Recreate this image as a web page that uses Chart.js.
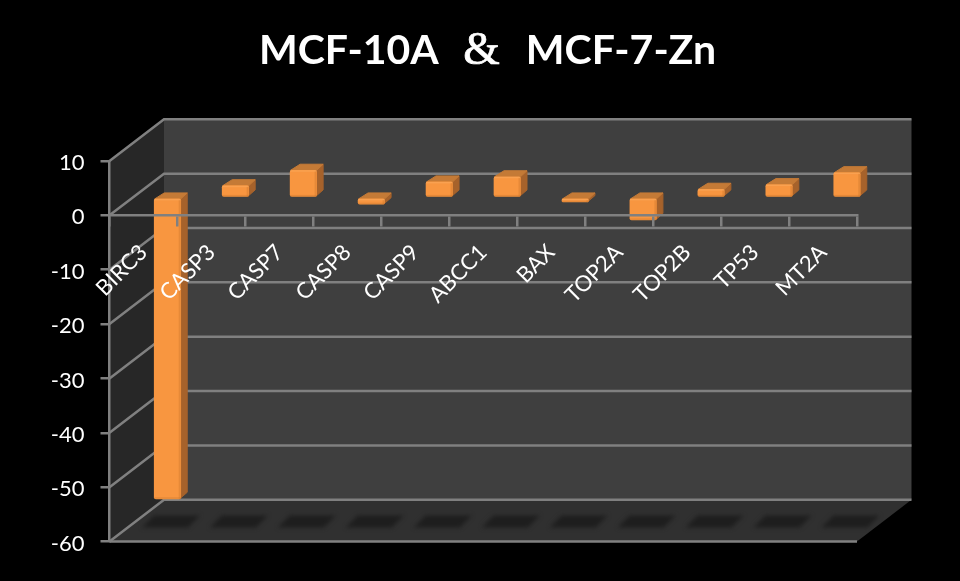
<!DOCTYPE html>
<html lang="en">
<head>
  <meta charset="UTF-8">
  <title>MCF-10A &amp; MCF-7-Zn</title>
  <script src="https://cdn.jsdelivr.net/npm/chart.js"></script>
  <style>
    body {
      margin: 0;
      background-color: #000;
      overflow: hidden;
    }
    #chart-box {
      position: relative;
      width: 960px;
      height: 581px;
    }
    #chart-title {
      position: absolute;
      left: 259px;
      top: 18px;
      color: #fff;
      font: bold 41px Lato, sans-serif;
      line-height: 60px;
      white-space: pre;
    }
    #chart-title span {
      font-family: "Liberation Serif", serif;
      font-weight: normal;
      font-size: 47px;
      -webkit-text-stroke: 0.7px #fff;
      margin: 0 6px;
    }
  </style>
</head>
<body>
  <div id="chart-box">
    <canvas id="geneChart" width="960" height="581"></canvas>
    <div id="chart-title">MCF-10A  <span>&amp;</span>  MCF-7-Zn</div>
  </div>

  <script>
    const genes = ['BIRC3', 'CASP3', 'CASP7', 'CASP8', 'CASP9', 'ABCC1', 'BAX', 'TOP2A', 'TOP2B', 'TP53', 'MT2A'];
    const foldChange = [-55.4, 2.2, 5.05, -1.2, 2.9, 3.85, -0.8, -4.1, 1.55, 2.4, 4.6];
    const yTicks = [10, 0, -10, -20, -30, -40, -50, -60];

    const lineGrey = '#808080';

    // depth of the box and how far the bars sit inside it
    const wallDx = 54.5, wallDy = 41.7;
    const barDx = 24, barDy = 17.7;
    const capLeft = 10, capRight = 7, capUp = 6.5;

    function fillPoly(ctx, color, pts, round) {
      ctx.fillStyle = color;
      ctx.beginPath();
      pts.forEach((p, i) => i ? ctx.lineTo(p[0], p[1]) : ctx.moveTo(p[0], p[1]));
      ctx.closePath();
      ctx.fill();
      if (round) {
        ctx.strokeStyle = color;
        ctx.lineWidth = round;
        ctx.lineJoin = 'round';
        ctx.stroke();
      }
    }

    const box3d = {
      id: 'box3d',
      // back wall, side wall, floor and their grid lines
      beforeDraw(chart) {
        const { ctx, chartArea: a, scales: { y } } = chart;
        const bx = a.left + wallDx, floorY = y.getPixelForValue(-60), topY = y.getPixelForValue(10);
        ctx.save();
        fillPoly(ctx, '#3f3f3f', [[bx, topY - wallDy], [a.right + wallDx, topY - wallDy], [a.right + wallDx, floorY - wallDy], [bx, floorY - wallDy]]);
        fillPoly(ctx, '#272727', [[a.left, topY], [bx, topY - wallDy], [bx, floorY - wallDy], [a.left, floorY]]);
        fillPoly(ctx, '#303030', [[a.left, floorY], [bx, floorY - wallDy], [a.right + wallDx, floorY - wallDy], [a.right, floorY]]);
        ctx.strokeStyle = lineGrey;
        ctx.lineWidth = 2.5;
        yTicks.forEach(v => {
          const py = y.getPixelForValue(v);
          ctx.beginPath();
          ctx.moveTo(a.left, py);
          ctx.lineTo(bx, py - wallDy);
          ctx.lineTo(a.right + wallDx, py - wallDy);
          ctx.stroke();
        });
        ctx.beginPath();
        ctx.moveTo(a.left, floorY);
        ctx.lineTo(a.right, floorY);
        ctx.stroke();
        ctx.restore();
      },
      // floor shadows and bar sides, then shift the bars into the box
      beforeDatasetsDraw(chart) {
        const { ctx, scales: { y } } = chart;
        const bars = chart.getDatasetMeta(0).data;
        const floorY = y.getPixelForValue(-60);
        ctx.save();
        ctx.filter = 'blur(2px)';
        bars.forEach(el => {
          const c = el.x + 27.5;
          fillPoly(ctx, '#1e1e1e', [[c - 29, floorY - 14], [c - 17, floorY - 26], [c + 29, floorY - 26], [c + 17, floorY - 14]]);
        });
        ctx.restore();

        ctx.save();
        ctx.translate(barDx, -barDy);
        bars.forEach(el => {
          const left = el.x - el.width / 2, right = el.x + el.width / 2;
          const top = Math.min(el.y, el.base), bottom = Math.max(el.y, el.base);
          fillPoly(ctx, '#a6622b', [[right - 1, top], [right + capRight - 0.5, top - capUp + 0.5], [right + capRight - 0.5, bottom - capUp], [right - 1, bottom]], 1);
          fillPoly(ctx, '#c47a36', [[left + 0.5, top], [left + capLeft, top - capUp + 0.5], [right + capRight - 0.5, top - capUp + 0.5], [right, top]], 1);
        });
      },
      // soft bevel round the front faces, then drop the shift
      afterDatasetsDraw(chart) {
        const { ctx } = chart;
        chart.getDatasetMeta(0).data.forEach(el => {
          const left = el.x - el.width / 2, right = el.x + el.width / 2;
          const top = Math.min(el.y, el.base), bottom = Math.max(el.y, el.base);
          ctx.fillStyle = 'rgba(190,110,40,0.3)';
          ctx.fillRect(right - 2, top + 1, 2, bottom - top - 1);
          ctx.fillRect(left, bottom - 1.5, right - left, 1.5);
          ctx.fillStyle = 'rgba(255,190,120,0.3)';
          ctx.fillRect(left, top, right - left, 1.5);
        });
        ctx.restore();
      }
    };

    new Chart(document.getElementById('geneChart'), {
      type: 'bar',
      data: {
        labels: genes,
        datasets: [{
          data: foldChange,
          backgroundColor: '#f89640',
          borderRadius: 2,
          borderSkipped: false,
          barThickness: 26.5,
          clip: false
        }]
      },
      options: {
        responsive: false,
        animation: false,
        layout: { padding: { top: 161, bottom: 39.5, right: 103, left: 0 } },
        plugins: { legend: { display: false }, tooltip: { enabled: false } },
        scales: {
          x: {
            position: { y: 0 },
            grid: { color: lineGrey, lineWidth: 2.5, drawOnChartArea: false, tickLength: 10, offset: true, z: 1 },
            border: { color: lineGrey, width: 2.5, z: 1 },
            ticks: {
              color: '#fff',
              font: { family: 'Lato', size: 22 },
              autoSkip: false,
              minRotation: 45,
              maxRotation: 45,
              padding: 14,
              z: 1
            }
          },
          y: {
            min: -60,
            max: 10,
            afterFit(scale) { scale.width = 109.5; },
            grid: { color: lineGrey, lineWidth: 2.5, drawOnChartArea: false, tickLength: 9 },
            border: { color: lineGrey, width: 2.5 },
            ticks: {
              stepSize: 10,
              color: '#fff',
              font: { family: 'Lato', size: 22 },
              labelOffset: 2,
              padding: 16
            }
          }
        }
      },
      plugins: [box3d]
    });
  </script>
</body>
</html>
